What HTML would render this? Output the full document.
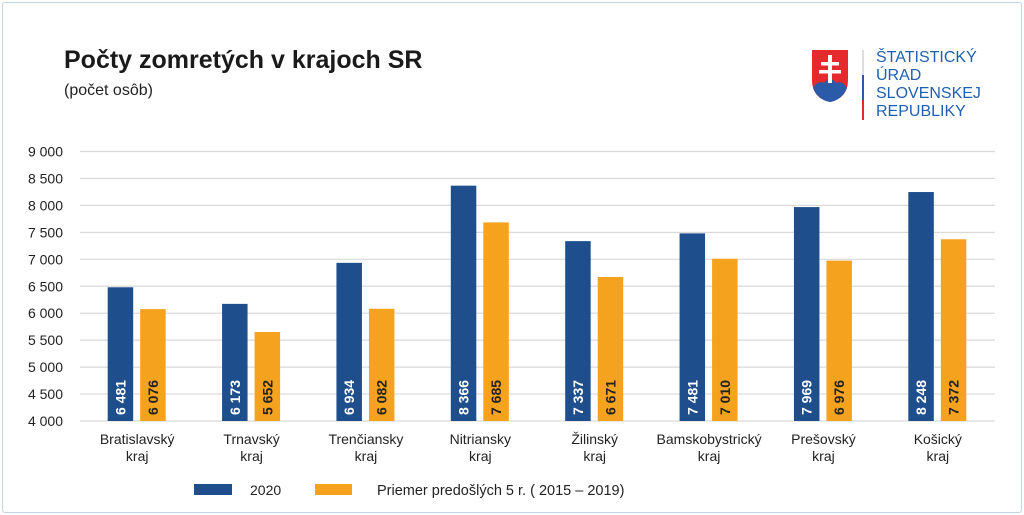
<!DOCTYPE html>
<html><head><meta charset="utf-8"><style>
body{margin:0;background:#fff;width:1024px;height:515px;overflow:hidden;font-family:"Liberation Sans",sans-serif}
#frame{position:absolute;left:2px;top:2px;width:1018px;height:509px;border:1.5px solid #c5d3e8;border-radius:3px}
</style></head><body>
<div id="frame"></div>
<svg id="chart" width="1024" height="515" style="position:absolute;left:0;top:0">
<text x="64" y="68" font-size="25" font-weight="bold" fill="#1a1a1a">Počty zomretých v krajoch SR</text>
<text x="64" y="95" font-size="16" fill="#222">(počet osôb)</text>
<g>
<path d="M812,50 h36 v30 q0,18 -18,22 q-18,-4 -18,-22 z" fill="#e52a2e"/>
<path d="M813,88 q5,-8 11,-5 q6,-8 12,0 q6,-3 11,5 q-5,12 -17,14 q-12,-2 -17,-14z" fill="#2b5aa8"/>
<rect x="828" y="55" width="4" height="28" fill="#fff"/><rect x="821" y="62" width="18" height="3.5" fill="#fff"/><rect x="819" y="70" width="22" height="3.5" fill="#fff"/>
<rect x="862" y="50" width="2" height="25" fill="#ddd"/><rect x="862" y="75" width="2" height="25" fill="#2b5aa8"/><rect x="862" y="100" width="2" height="20" fill="#e52a2e"/>
<text font-size="16" fill="#2060b0"><tspan x="876" y="62">ŠTATISTICKÝ</tspan><tspan x="876" y="80">ÚRAD</tspan><tspan x="876" y="98">SLOVENSKEJ</tspan><tspan x="876" y="116">REPUBLIKY</tspan></text>
</g>
<g id="grid"></g><g id="bars"></g><g id="labels"></g>
<g>
<rect x="194" y="484" width="38" height="11" fill="#1f4e8c"/>
<text x="250" y="495" font-size="14" fill="#222">2020</text>
<rect x="315" y="484" width="37" height="11" fill="#f5a21f"/>
<text x="377" y="495" font-size="14.5" fill="#222">Priemer predošlých 5 r. ( 2015 – 2019)</text>
</g>
</svg>
<script>
const categories=[["Bratislavský","kraj"],["Trnavský","kraj"],["Trenčiansky","kraj"],["Nitriansky","kraj"],["Žilinský","kraj"],["Bamskobystrický","kraj"],["Prešovský","kraj"],["Košický","kraj"]];
const values2020=[6481,6173,6934,8366,7337,7481,7969,8248];
const valuesAvg=[6076,5652,6082,7685,6671,7010,6976,7372];
const printed2020=["6 481","6 173","6 934","8 366","7 337","7 481","7 969","8 248"];
const printedAvg=["6 076","5 652","6 082","7 685","6 671","7 010","6 976","7 372"];
const yTicks=[4000,4500,5000,5500,6000,6500,7000,7500,8000,8500,9000];
const yTickLabels=["4 000","4 500","5 000","5 500","6 000","6 500","7 000","7 500","8 000","8 500","9 000"];
const NS="http://www.w3.org/2000/svg";
const L=80,R=995,T=151.5,B=421,yMin=4000,yMax=9000;
const y=v=>B-(v-yMin)/(yMax-yMin)*(B-T);
const band=(R-L)/categories.length;
const cx=i=>L+band*(i+0.5);
function mk(t,a,p){const e=document.createElementNS(NS,t);for(const k in a)e.setAttribute(k,a[k]);p.appendChild(e);return e;}
const g=document.getElementById('grid'),bg=document.getElementById('bars'),lg=document.getElementById('labels');
yTicks.forEach((v,i)=>{
 const l=mk('line',{x1:L,x2:R,y1:y(v),y2:y(v),stroke:'#d9d9d9','stroke-width':1.2},g);
 
 
 const t=mk('text',{x:63,y:y(v)+5,'font-size':14,'text-anchor':'end',fill:'#222'},g);
 t.textContent=yTickLabels[i];
 
 
});
const bw=25.5;
categories.forEach((c,i)=>{
 [[values2020,printed2020,'#1f4e8c','#fff',-29.5,'bar-2020'],[valuesAvg,printedAvg,'#f5a21f','#222',3,'bar-average']].forEach(([vals,pr,col,tc,off,nm])=>{
  const x=cx(i)+off;
  const r=mk('rect',{x:x,y:y(vals[i]),width:bw,height:B-y(vals[i]),fill:col},bg);
  
  
  const tx=x+bw/2+5,ty=B-6;
  const t=mk('text',{x:tx,y:ty,'font-size':14,'font-weight':'bold',fill:tc,transform:`rotate(-90 ${tx} ${ty})`},lg);
  t.textContent=pr[i];
  
  
 });
 c.forEach((s,j)=>{
  const t=mk('text',{x:cx(i),y:444+j*17,'font-size':14,'text-anchor':'middle',fill:'#222'},lg);
  t.textContent=s;
  
  
 });
});
</script>
</body></html>
